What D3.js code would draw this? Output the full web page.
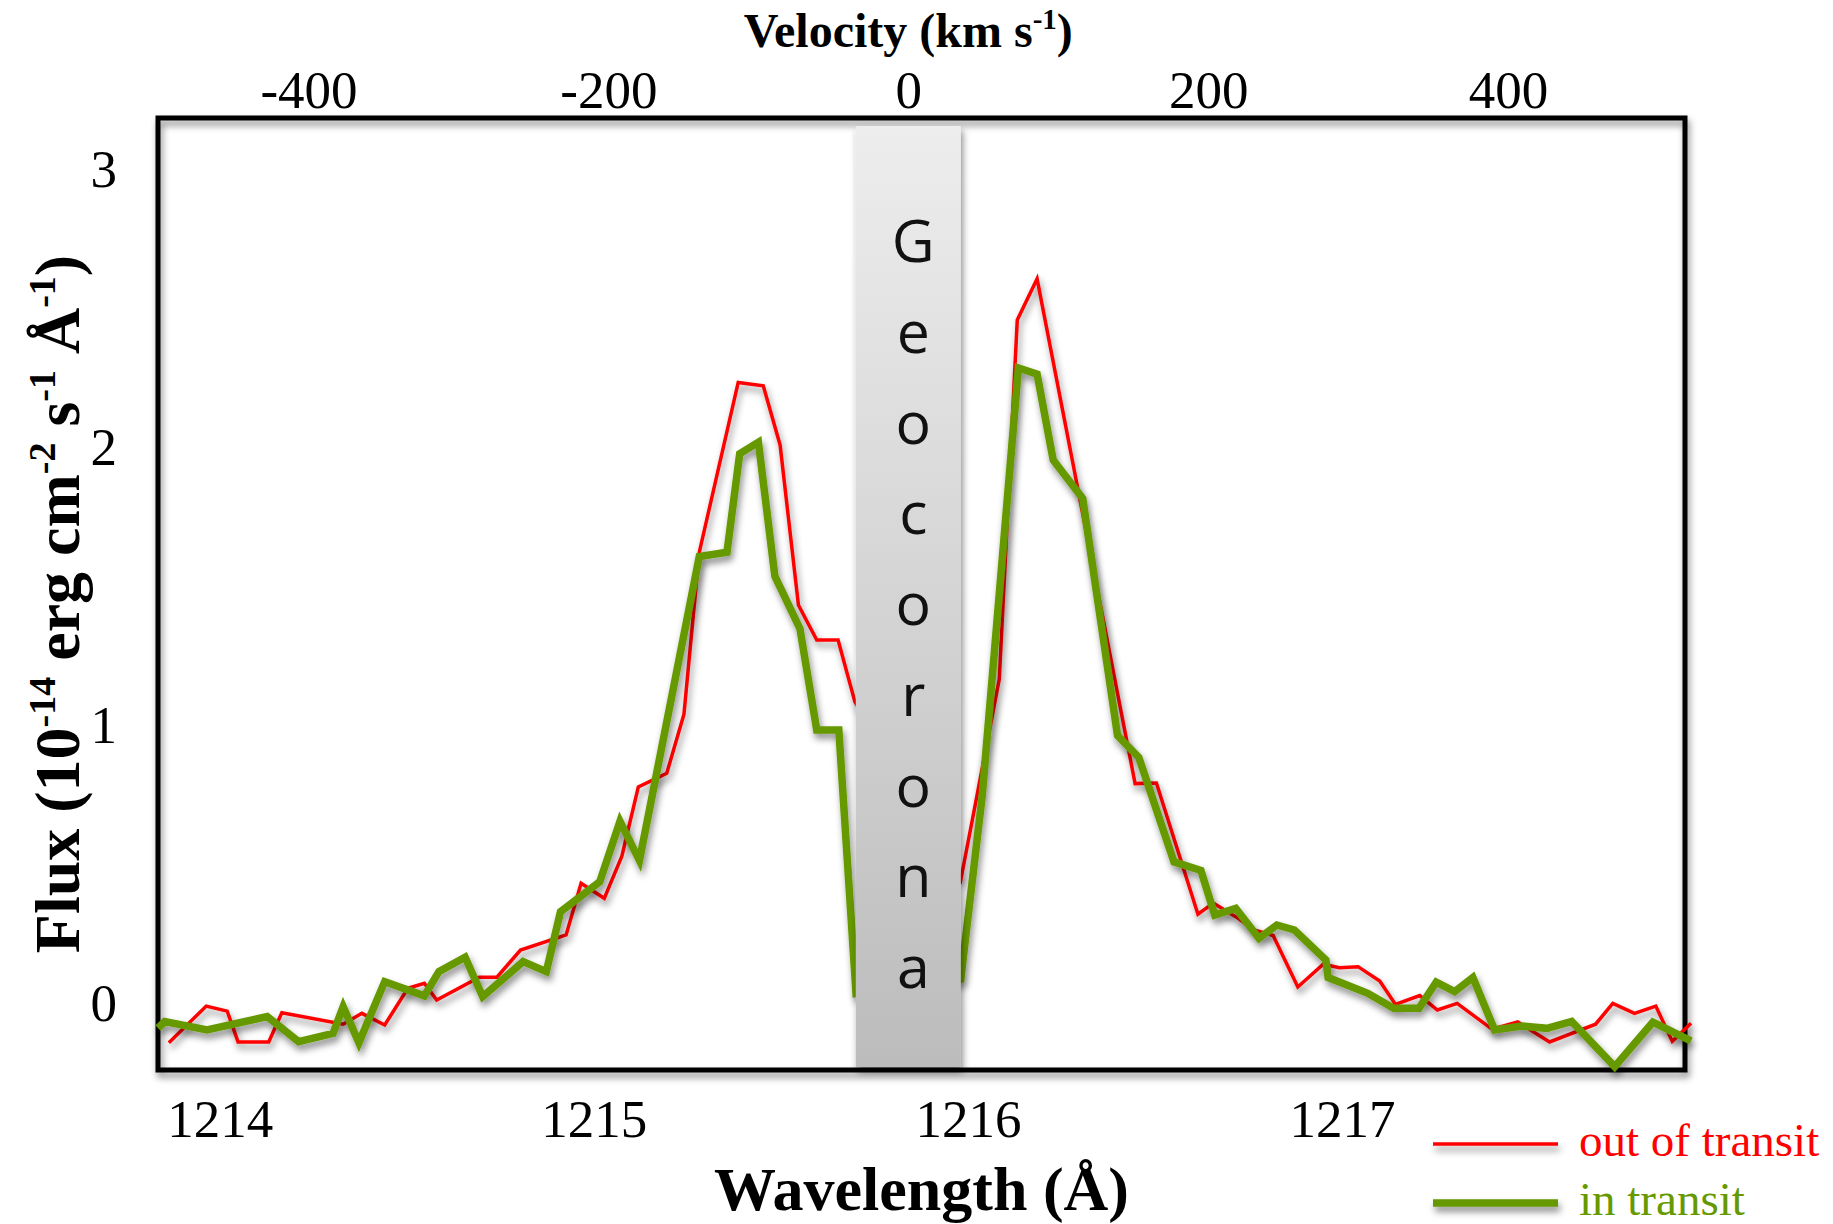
<!DOCTYPE html>
<html>
<head>
<meta charset="UTF-8">
<style>
body { margin: 0; background: #fff; }
svg { display: block; }
.axis path { display: none; }
.axis text { font-family: "Liberation Serif", "Times New Roman", serif; font-size: 53px; fill: #000; }
.title { font-family: "Liberation Serif", "Times New Roman", serif; font-weight: bold; fill: #000; }
.legend { font-family: "Liberation Serif", "Times New Roman", serif; font-size: 47px; }
.geo { font-family: "Open Sans", "Noto Sans", sans-serif; font-size: 59px; fill: #111; }
.line { fill: none; stroke-linejoin: miter; stroke-linecap: butt; }
</style>
</head>
<body>
<svg width="1833" height="1224"></svg>
<script src="https://d3js.org/d3.v7.min.js"></script>
<script>
// out of transit (red) - wavelength in A, flux in 1e-14
var redWave = [1213.864, 1213.964, 1214.020, 1214.049, 1214.131, 1214.166, 1214.330, 1214.380, 1214.441, 1214.503,
  1214.547, 1214.580, 1214.694, 1214.741, 1214.804, 1214.926, 1214.966, 1215.028, 1215.075, 1215.119,
  1215.195, 1215.241, 1215.282, 1215.386, 1215.453, 1215.498, 1215.547, 1215.596, 1215.653, 1215.698,
  1215.981, 1216.084, 1216.132, 1216.185, 1216.447, 1216.504, 1216.615, 1216.656, 1216.717, 1216.765,
  1216.816, 1216.882, 1216.950, 1216.993, 1217.043, 1217.101, 1217.143, 1217.208, 1217.255, 1217.308,
  1217.401, 1217.470, 1217.555, 1217.678, 1217.724, 1217.782, 1217.839, 1217.883, 1217.933];
var redFlux = [-0.143, -0.011, -0.029, -0.140, -0.140, -0.035, -0.076, -0.037, -0.079, 0.053,
  0.071, 0.011, 0.093, 0.093, 0.191, 0.245, 0.431, 0.377, 0.529, 0.778,
  0.827, 1.040, 1.623, 2.234, 2.222, 2.009, 1.433, 1.307, 1.307, 1.084,
  0.443, 1.166, 2.459, 2.607, 0.790, 0.792, 0.320, 0.360, 0.310, 0.263,
  0.243, 0.058, 0.140, 0.127, 0.131, 0.079, -0.005, 0.027, -0.025, -0.001,
  -0.094, -0.068, -0.140, -0.076, -0.001, -0.037, -0.011, -0.138, -0.073];

// in transit (green)
var greenWave = [1213.835, 1213.853, 1213.966, 1214.127, 1214.211, 1214.303, 1214.330, 1214.372, 1214.441, 1214.547,
  1214.586, 1214.656, 1214.703, 1214.811, 1214.873, 1214.911, 1215.016, 1215.070, 1215.122, 1215.282,
  1215.356, 1215.390, 1215.440, 1215.484, 1215.551, 1215.596, 1215.655, 1215.701, 1215.981, 1216.038,
  1216.135, 1216.185, 1216.228, 1216.307, 1216.400, 1216.457, 1216.551, 1216.623, 1216.660, 1216.716,
  1216.778, 1216.826, 1216.873, 1216.957, 1216.963, 1217.069, 1217.138, 1217.206, 1217.252, 1217.301,
  1217.350, 1217.408, 1217.481, 1217.548, 1217.614, 1217.729, 1217.831, 1217.933];
var greenFlux = [-0.090, -0.067, -0.097, -0.049, -0.139, -0.109, -0.013, -0.143, 0.077, 0.026,
  0.113, 0.165, 0.023, 0.149, 0.113, 0.329, 0.437, 0.654, 0.513, 1.607,
  1.623, 1.977, 2.019, 1.537, 1.348, 0.983, 0.983, 0.034, 0.086, 0.742,
  2.286, 2.264, 1.955, 1.816, 0.963, 0.884, 0.508, 0.477, 0.317, 0.341,
  0.233, 0.281, 0.263, 0.155, 0.092, 0.035, -0.019, -0.019, 0.075, 0.041,
  0.092, -0.097, -0.083, -0.091, -0.066, -0.229, -0.069, -0.136];

var waveTicks = [1214, 1215, 1216, 1217];
var velTicks = [-400, -200, 0, 200, 400];
var fluxTicks = [0, 1, 2, 3];
var geoVel = [-35, 35];
var geoLetters = ["G", "e", "o", "c", "o", "r", "o", "n", "a"];
var seriesNames = ["out of transit", "in transit"];
var seriesColors = ["#ff0000", "#669900"];

var svg = d3.select("svg"),
    margin = {top: 118, right: 148, bottom: 154, left: 158},
    width = +svg.attr("width") - margin.left - margin.right,
    height = +svg.attr("height") - margin.top - margin.bottom;

var defs = svg.append("defs");
var shadow = defs.append("filter").attr("id", "shadow")
    .attr("filterUnits", "userSpaceOnUse")
    .attr("x", -300).attr("y", -300).attr("width", 2400).attr("height", 1800);
shadow.append("feDropShadow")
    .attr("dx", 2).attr("dy", 5).attr("stdDeviation", 3.5)
    .attr("flood-color", "#000").attr("flood-opacity", 0.45);

var grad = defs.append("linearGradient").attr("id", "geoGrad")
    .attr("x1", 0).attr("y1", 0).attr("x2", 0).attr("y2", 1);
grad.append("stop").attr("offset", "0%").attr("stop-color", "#ededed");
grad.append("stop").attr("offset", "100%").attr("stop-color", "#bcbcbc");

var g = svg.append("g").attr("transform", "translate(" + margin.left + "," + margin.top + ")");

var x = d3.scaleLinear().domain([1213.835, 1217.917]).range([0, width]),
    xv = d3.scaleLinear().domain([-500.4, 518.0]).range([0, width]),
    y = d3.scaleLinear().domain([-0.241, 3.186]).range([height, 0]);

// frame
g.append("rect")
    .attr("width", width).attr("height", height)
    .attr("fill", "none").attr("stroke", "#000").attr("stroke-width", 5)
    .attr("filter", "url(#shadow)");

// axes
g.append("g")
    .attr("class", "axis axis--x")
    .attr("transform", "translate(0," + height + ")")
    .call(d3.axisBottom(x).tickValues(waveTicks).tickSize(0).tickPadding(29).tickFormat(function(d) { return String(d); }));

g.append("g")
    .attr("class", "axis axis--v")
    .call(d3.axisTop(xv).tickValues(velTicks).tickSize(0).tickPadding(10).tickFormat(function(d) { return String(d); }));

g.append("g")
    .attr("class", "axis axis--y")
    .call(d3.axisLeft(y).tickValues(fluxTicks).tickSize(0).tickPadding(41).tickFormat(function(d) { return String(d); }));

// lines
var line = d3.line()
    .x(function(d) { return x(d.w); })
    .y(function(d) { return y(d.f); });

var series = [
  {id: seriesNames[0], color: seriesColors[0], width: 3.5, values: redWave.map(function(w, i) { return {w: w, f: redFlux[i]}; })},
  {id: seriesNames[1], color: seriesColors[1], width: 7.5, values: greenWave.map(function(w, i) { return {w: w, f: greenFlux[i]}; })}
];

g.selectAll(".series")
  .data(series)
  .enter().append("path")
    .attr("class", "line")
    .attr("d", function(d) { return line(d.values); })
    .style("stroke", function(d) { return d.color; })
    .style("stroke-width", function(d) { return d.width; })
    .attr("filter", "url(#shadow)");

// geocorona band
g.append("rect")
    .attr("x", xv(geoVel[0]))
    .attr("width", xv(geoVel[1]) - xv(geoVel[0]))
    .attr("y", 8)
    .attr("height", height - 11)
    .attr("fill", "url(#geoGrad)")
    .attr("filter", "url(#shadow)");

var letterY = d3.scalePoint().domain(d3.range(geoLetters.length)).range([144, 870]);
g.selectAll(".geo")
  .data(geoLetters)
  .enter().append("text")
    .attr("class", "geo")
    .attr("x", xv(0) + 5)
    .attr("y", function(d, i) { return letterY(i); })
    .attr("text-anchor", "middle")
    .text(function(d) { return d; });

// titles with superscripts
function richText(sel, parts, size) {
  var sup = Math.round(size * 0.6), shift = Math.round(size * 0.38);
  parts.forEach(function(p) {
    if (p[1]) {
      sel.append("tspan").attr("font-size", sup).attr("dy", -shift).text(p[0]);
    } else {
      sel.append("tspan").attr("font-size", size).attr("dy", p[2] ? shift : 0).text(p[0]);
    }
  });
}

var vt = g.append("text").attr("class", "title")
    .attr("x", xv(0)).attr("y", -71).attr("text-anchor", "middle");
richText(vt, [["Velocity (km s", false], ["-1", true], [")", false, true]], 48);

g.append("text").attr("class", "title")
    .attr("x", width / 2).attr("y", height + 140)
    .attr("text-anchor", "middle").attr("font-size", 62)
    .text("Wavelength (Å)");

var yt = g.append("text").attr("class", "title")
    .attr("transform", "translate(-79," + (height / 2 + 10) + ") rotate(-90)")
    .attr("text-anchor", "middle");
richText(yt, [["Flux (10", false], ["-14", true], [" erg cm", false, true], ["-2", true], [" s", false, true],
  ["-1", true], [" Å", false, true], ["-1", true], [")", false, true]], 64);

// legend
var legend = svg.append("g").attr("transform", "translate(1433,1144)");
var item = legend.selectAll(".item")
  .data(series)
  .enter().append("g")
    .attr("transform", function(d, i) { return "translate(0," + (i * 59) + ")"; });
item.append("line")
    .attr("x1", 0).attr("x2", 125).attr("y1", 0).attr("y2", 0)
    .style("stroke", function(d) { return d.color; })
    .style("stroke-width", function(d) { return d.width; })
    .attr("filter", "url(#shadow)");
item.append("text")
    .attr("class", "legend")
    .attr("x", 146).attr("y", 12)
    .style("fill", function(d) { return d.color; })
    .text(function(d) { return d.id; });
</script>
</body>
</html>
